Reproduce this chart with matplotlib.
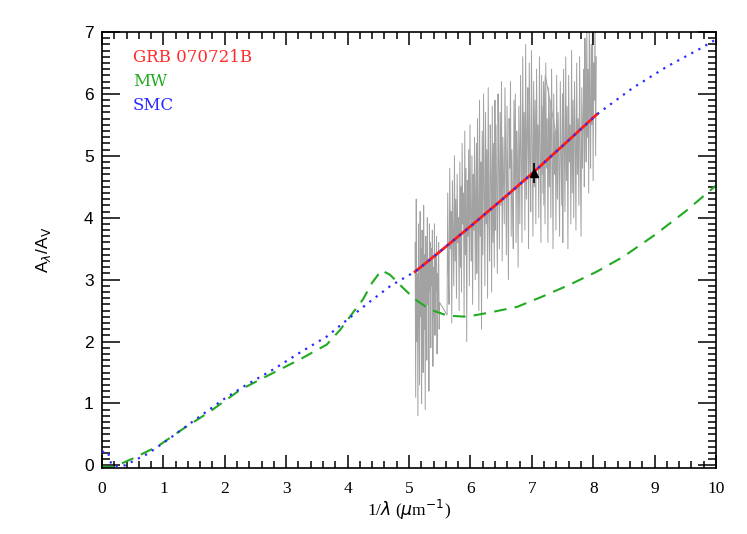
import numpy as np
import matplotlib
matplotlib.use("Agg")
import matplotlib.pyplot as plt
from matplotlib.ticker import MultipleLocator

# SMC extinction curve (blue dotted)
smc_x = [0.0, 0.10, 0.12, 0.15, 0.2, 0.37, 0.75, 1.08, 1.55, 1.97, 2.3, 2.79, 3.22, 3.66, 3.99,
         4.37, 4.7, 5.1, 5.5, 6.0, 6.5, 7.0, 7.5, 8.06, 8.65, 9.2, 9.74, 10.0]
smc_y = [0.22, 0.22, 0.12, 0.03, -0.02, 0.0, 0.19, 0.42, 0.76, 1.06, 1.27, 1.55, 1.82, 2.08, 2.35,
         2.65, 2.9, 3.13, 3.45, 3.86, 4.28, 4.71, 5.16, 5.67, 6.1, 6.44, 6.73, 6.88]

# MW extinction curve (green dashed)
mw_x = [0.0, 0.18, 0.5, 0.91, 1.35, 1.76, 2.25, 2.74, 3.22, 3.66, 3.88, 4.09, 4.25, 4.4, 4.55,
        4.69, 4.9, 5.1, 5.34, 5.62, 5.94, 6.32, 6.76, 7.18, 7.62, 8.06, 8.49, 9.0, 9.5, 10.0]
mw_y = [-0.02, -0.03, 0.11, 0.31, 0.61, 0.87, 1.22, 1.47, 1.71, 1.95, 2.19, 2.47, 2.68, 2.95, 3.15,
        3.08, 2.87, 2.68, 2.52, 2.42, 2.4, 2.47, 2.56, 2.73, 2.92, 3.13, 3.37, 3.72, 4.1, 4.52]

# GRB fit (red)
fit_x = [5.1, 5.5, 6.0, 6.5, 7.0, 7.5, 8.06]
fit_y = [3.13, 3.45, 3.86, 4.28, 4.71, 5.16, 5.67]

# Spectrum (gray), values, per x-range
r1 = [3.6, 1.1, 4.3, 2.0, 3.1, 0.8, 3.9, 2.7, 1.3, 4.1, 2.4, 3.5]
r2 = [1.0, 3.8, 2.9, 1.5, 4.2, 2.2, 3.4, 0.9, 3.7, 3.0, 1.7, 4.0, 2.6, 3.3, 1.2, 3.9, 2.8, 3.6]
r3 = [1.9, 3.5, 2.9, 3.8, 1.6, 3.2, 2.4, 3.9, 2.1, 3.4, 2.8, 3.7, 1.8, 3.1, 2.5, 3.6, 2.2, 2.63]
r4 = [2.43, 4.4, 3.1, 2.6, 4.8, 3.5, 4.1, 2.3, 4.6, 3.8, 2.9, 5.0, 3.3, 4.3, 2.7, 4.7, 3.6, 4.0,
      2.5, 4.9, 3.2, 4.5]
r5 = [2.8, 5.2, 3.9, 4.4, 2.4, 5.4, 3.4, 4.8, 2.0, 4.6, 3.7, 5.1, 2.9, 5.5, 4.0, 3.3, 5.0, 2.6,
      4.7, 3.8, 5.3, 3.0, 4.4, 5.2]
r6 = [3.1, 5.6, 4.2, 2.5, 5.9, 3.7, 4.9, 2.2, 5.4, 3.4, 6.0, 4.5, 2.9, 5.7, 3.9, 5.1, 2.7, 6.1,
      4.1, 3.3, 5.5, 4.7, 2.8, 5.8, 3.6, 5.2, 3.2, 5.9]
r7 = [3.8, 5.5, 4.4, 3.1, 6.0, 4.9, 3.5, 5.7, 4.2, 6.2, 3.3, 5.3, 4.6, 3.9, 6.1, 5.0, 3.4, 5.8,
      4.3, 3.0, 5.6, 4.8, 6.2, 3.7, 5.1, 4.1, 3.5, 5.9, 4.5, 6.0, 3.6, 5.4, 4.9, 3.2, 5.8, 4.4]
r8 = [3.9, 6.3, 5.0, 3.6, 6.6, 4.6, 5.7, 3.8, 6.8, 4.3, 5.4, 6.1, 3.5, 6.5, 4.9, 4.1, 6.7, 5.2,
      3.7, 6.2, 4.5, 5.9, 3.9, 6.4, 4.8, 5.5, 4.0, 6.6, 5.1, 3.6, 6.3, 4.7, 5.8, 4.2, 6.0, 6.3]
r9 = [4.4, 6.2, 5.3, 3.9, 6.5, 4.8, 5.6, 3.6, 6.1, 4.5, 5.9, 4.0, 6.4, 5.1, 3.5, 6.0, 4.7, 5.4,
      3.8, 6.3, 4.3, 5.7, 4.9, 3.7, 6.2, 5.0, 4.2, 6.0]
r10 = [3.6, 6.4, 5.2, 4.1, 6.6, 4.6, 5.8, 3.5, 6.3, 4.9, 5.5, 3.9, 6.7, 4.4, 5.9, 4.0, 6.2, 5.3,
       3.8, 6.5, 4.7, 5.6, 4.2, 6.6, 5.0, 3.7, 6.1, 4.8, 5.7, 6.4]
r11 = [4.5, 6.9, 5.6, 4.9, 7.2, 5.3, 6.4, 4.4, 7.4, 5.8, 4.8, 6.8, 5.5, 7.3, 4.6, 6.5, 5.9, 7.1,
       5.0, 6.6]
arm1_ranges = [(5.10, 5.20), (5.205, 5.35), (5.355, 5.50), (5.62, 5.85), (5.855, 6.10),
               (6.105, 6.40), (6.405, 6.80), (6.805, 7.22)]
arm1_end = (7.44, 5.1)
arm2_ranges = [(7.18, 7.50), (7.505, 7.85), (7.855, 8.05)]

# photometric point
pt_x, pt_y, pt_err = 7.04, 4.72, 0.16

labels = ["GRB 070721B", "MW", "SMC"]
label_colors = ["#ff2a2a", "#22aa22", "#2a2aff"]

fig = plt.figure(figsize=(7.47, 5.34), dpi=100)
ax = fig.add_axes([0.1365, 0.1227, 0.822, 0.8174])

def build(ranges, segs):
    xs, ys = [], []
    for (x0, x1), seg in zip(ranges, segs):
        xs.extend(np.linspace(x0, x1, len(seg)))
        ys.extend(seg)
    return xs, ys

a1x, a1y = build(arm1_ranges, [r1, r2, r3, r4, r5, r6, r7, r8])
a1x.append(arm1_end[0]); a1y.append(arm1_end[1])
a2x, a2y = build(arm2_ranges, [r9, r10, r11])
ax.plot(a1x, a1y, color="#a2a2a2", lw=0.7, zorder=1)
ax.plot(a2x, a2y, color="#a2a2a2", lw=0.7, zorder=1)

ax.plot(mw_x, mw_y, color="#22aa22", lw=1.5, dashes=(6, 4), zorder=2)
ax.plot(fit_x, fit_y, color="#ff1a1a", lw=2.0, zorder=3)
ax.plot(smc_x, smc_y, color="#2a2aff", lw=1.6, linestyle=(0, (1, 2.6)), zorder=4)
ax.errorbar([pt_x], [pt_y], yerr=[pt_err], fmt="^", color="black", ms=6, elinewidth=1.2,
            capsize=0, zorder=5)

for i, (t, c) in enumerate(zip(labels, label_colors)):
    ax.text(0.5, 6.58 - 0.38 * i, t, color=c, fontsize=12, family="DejaVu Serif",
            va="center", ha="left")

ax.set_xlim(0, 10)
ax.set_ylim(-0.05, 7)
ax.xaxis.set_major_locator(MultipleLocator(1))
ax.xaxis.set_minor_locator(MultipleLocator(0.2))
ax.yaxis.set_major_locator(MultipleLocator(1))
ax.yaxis.set_minor_locator(MultipleLocator(0.1))
ax.tick_params(axis="both", which="both", direction="in", top=True, right=True, width=1.1)
ax.tick_params(axis="x", which="major", length=9.5, pad=9)
ax.tick_params(axis="x", which="minor", length=5)
ax.tick_params(axis="y", which="major", length=13, pad=6)
ax.tick_params(axis="y", which="minor", length=5.8)
ax.tick_params(axis="both", labelsize=12.5)
for lab in ax.get_xticklabels():
    lab.set_family("Liberation Serif")
for lab in ax.get_yticklabels():
    lab.set_family("Liberation Sans")
for s in ax.spines.values():
    s.set_linewidth(1.2)

ax.set_xlabel(r"1/$\lambda$ ($\mu$m$^{-1}$)", fontsize=12.5, family="Liberation Serif", labelpad=1)
ax.set_ylabel(r"A$_\lambda$/A$_{\rm V}$", fontsize=12.5, family="Liberation Sans", labelpad=22)

fig.savefig("out.png", dpi=100)
